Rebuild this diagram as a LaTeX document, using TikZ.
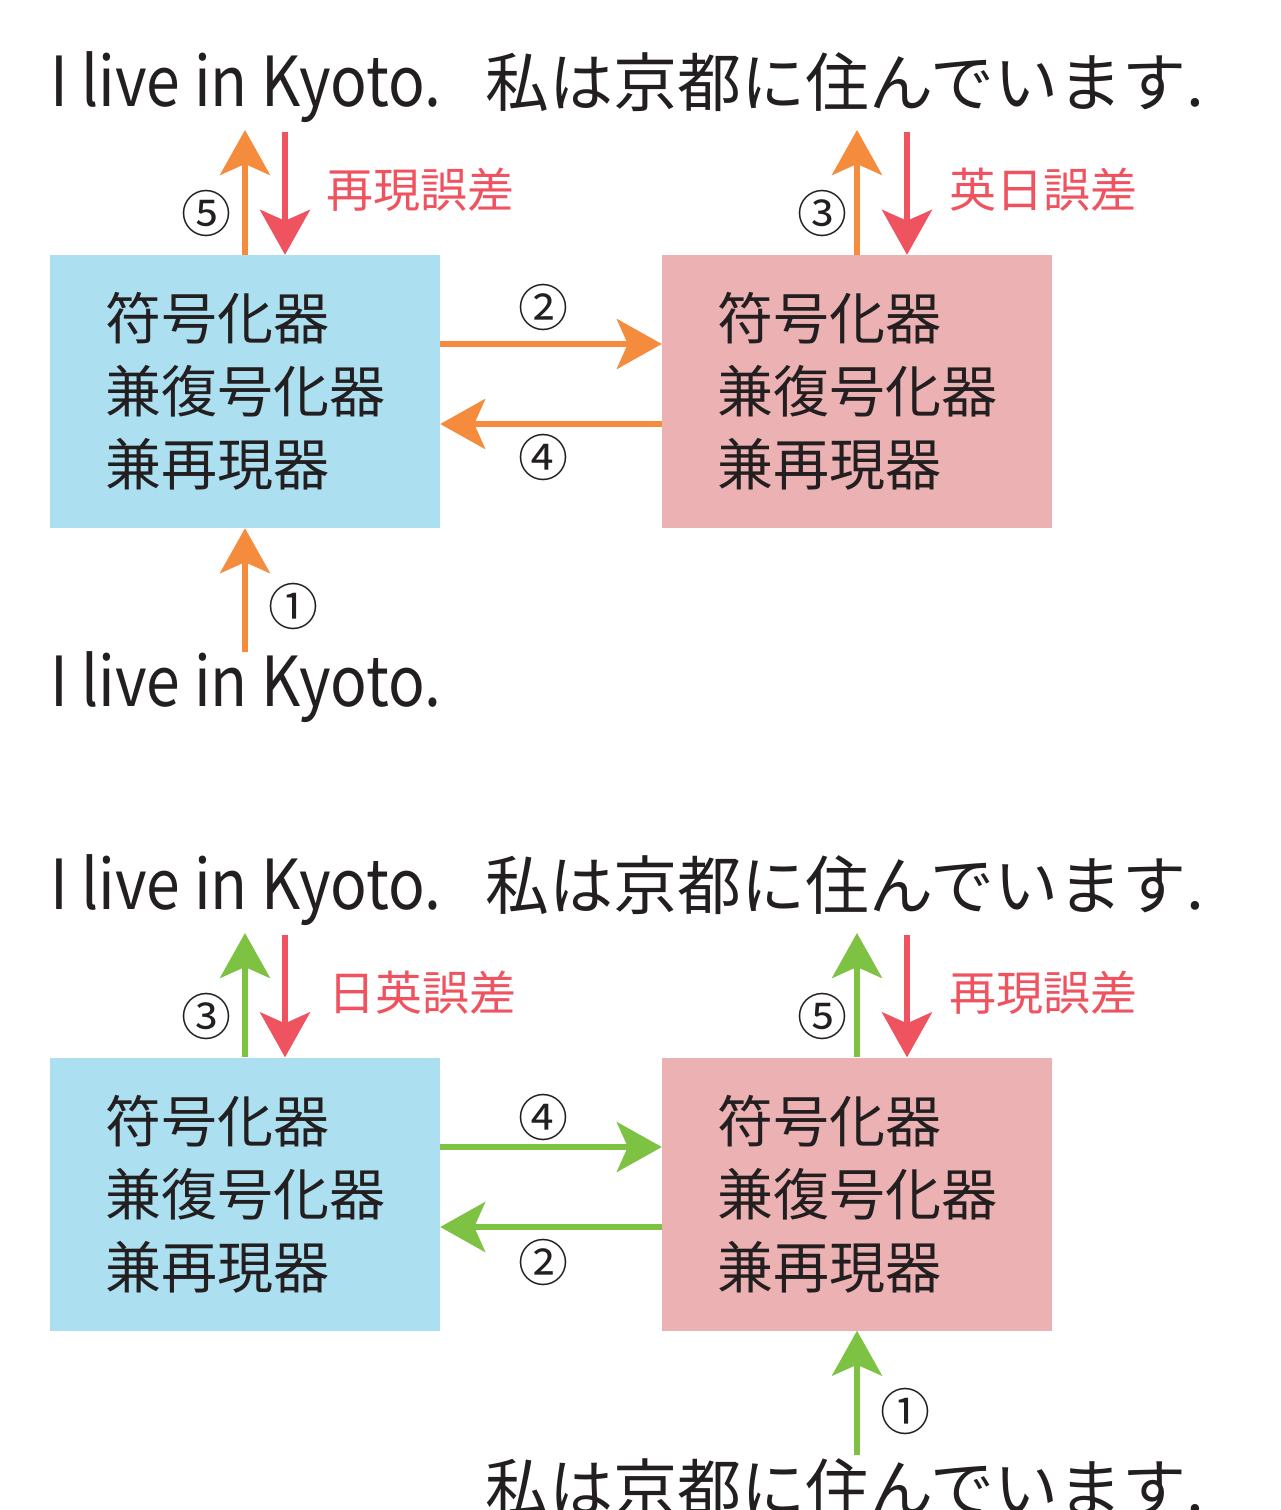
\documentclass[tikz,border=0pt]{standalone}
\usepackage{fontspec}
\usepackage{graphicx}
\setmainfont{Noto Sans CJK JP}
\usetikzlibrary{arrows.meta}
\definecolor{orng}{HTML}{F58B3C}
\definecolor{redc}{HTML}{EF5360}
\definecolor{grn}{HTML}{7DC242}
\definecolor{blu}{HTML}{ACE0F1}
\definecolor{pnk}{HTML}{EBB1B3}
\definecolor{txt}{HTML}{231F20}
\newcommand{\entext}{\scalebox{0.88}[1]{I live in Kyoto.}}
\begin{document}
\begin{tikzpicture}[x=1pt,y=-1pt,
  arr/.style={line width=5.5pt,-{Stealth[length=45pt,width=50pt,inset=11pt]}},
  num/.style={font=\fontsize{50}{50}\selectfont,text=txt,inner sep=0pt},
  err/.style={font=\fontsize{47}{47}\selectfont,text=redc,inner sep=0pt},
  big/.style={font=\fontsize{69}{69}\selectfont,text=txt,inner sep=0pt,anchor=base west},
  bigj/.style={font=\fontsize{64}{64}\selectfont,text=txt,inner sep=0pt,anchor=base west},
  codec/.style={minimum width=390pt,minimum height=273pt,inner sep=0pt,align=left,
    font=\fontsize{56}{73}\selectfont,text=txt}]
\useasboundingbox (0,0) rectangle (1281,1510);

% ---------- top diagram ----------
\node[big] (en1) at (50,106) {\entext};
\node[bigj] (ja1) at (485,106) {私は京都に住んでいます.};
\node[codec,fill=blu] (L1) at (245,391.5) {符号化器\\兼復号化器\\兼再現器};
\node[codec,fill=pnk] (R1) at (857,391.5) {符号化器\\兼復号化器\\兼再現器};
\node[big] (en1b) at (50,706) {\entext};

\coordinate (u1) at (245,130);
\coordinate (d1) at (285,132);
\coordinate (u2) at (857,130);
\coordinate (d2) at (907,132);
\coordinate (h1) at (0,344);
\coordinate (h2) at (0,424);
\coordinate (b1) at (245,652);

\draw[arr,orng] (L1.north -| u1) -- (u1);
\draw[arr,redc] (d1) -- (L1.north -| d1);
\draw[arr,orng] (R1.north -| u2) -- (u2);
\draw[arr,redc] (d2) -- (R1.north -| d2);
\draw[arr,orng] (L1.east |- h1) -- (R1.west |- h1);
\draw[arr,orng] (R1.west |- h2) -- (L1.east |- h2);
\draw[arr,orng] (b1) -- (L1.south -| b1);

\node[num] (n5a) at (206,213) {⑤};
\node[err] (e1) at (420,190) {再現誤差};
\node[num] (n3a) at (822,213) {③};
\node[err] (e2) at (1043,190) {英日誤差};
\node[num] (n2a) at (543,307) {②};
\node[num] (n4a) at (543,457) {④};
\node[num] (n1a) at (293,606) {①};

% ---------- bottom diagram ----------
\node[big] (en2) at (50,909) {\entext};
\node[bigj] (ja2) at (485,909) {私は京都に住んでいます.};
\node[codec,fill=blu] (L2) at (245,1194) {符号化器\\兼復号化器\\兼再現器};
\node[codec,fill=pnk] (R2) at (857,1194) {符号化器\\兼復号化器\\兼再現器};
\node[bigj] (ja2b) at (485,1512) {私は京都に住んでいます.};

\coordinate (u3) at (245,933);
\coordinate (d3) at (285,935);
\coordinate (u4) at (857,933);
\coordinate (d4) at (907,935);
\coordinate (h3) at (0,1147);
\coordinate (h4) at (0,1227);
\coordinate (b2) at (857,1455);

\draw[arr,grn] (L2.north -| u3) -- (u3);
\draw[arr,redc] (d3) -- (L2.north -| d3);
\draw[arr,grn] (R2.north -| u4) -- (u4);
\draw[arr,redc] (d4) -- (R2.north -| d4);
\draw[arr,grn] (L2.east |- h3) -- (R2.west |- h3);
\draw[arr,grn] (R2.west |- h4) -- (L2.east |- h4);
\draw[arr,grn] (b2) -- (R2.south -| b2);

\node[num] (n3b) at (206,1016) {③};
\node[err] (e3) at (422,993) {日英誤差};
\node[num] (n5b) at (822,1016) {⑤};
\node[err] (e4) at (1043,993) {再現誤差};
\node[num] (n4b) at (543,1117) {④};
\node[num] (n2b) at (543,1262) {②};
\node[num] (n1b) at (905,1411) {①};
\end{tikzpicture}
\end{document}
